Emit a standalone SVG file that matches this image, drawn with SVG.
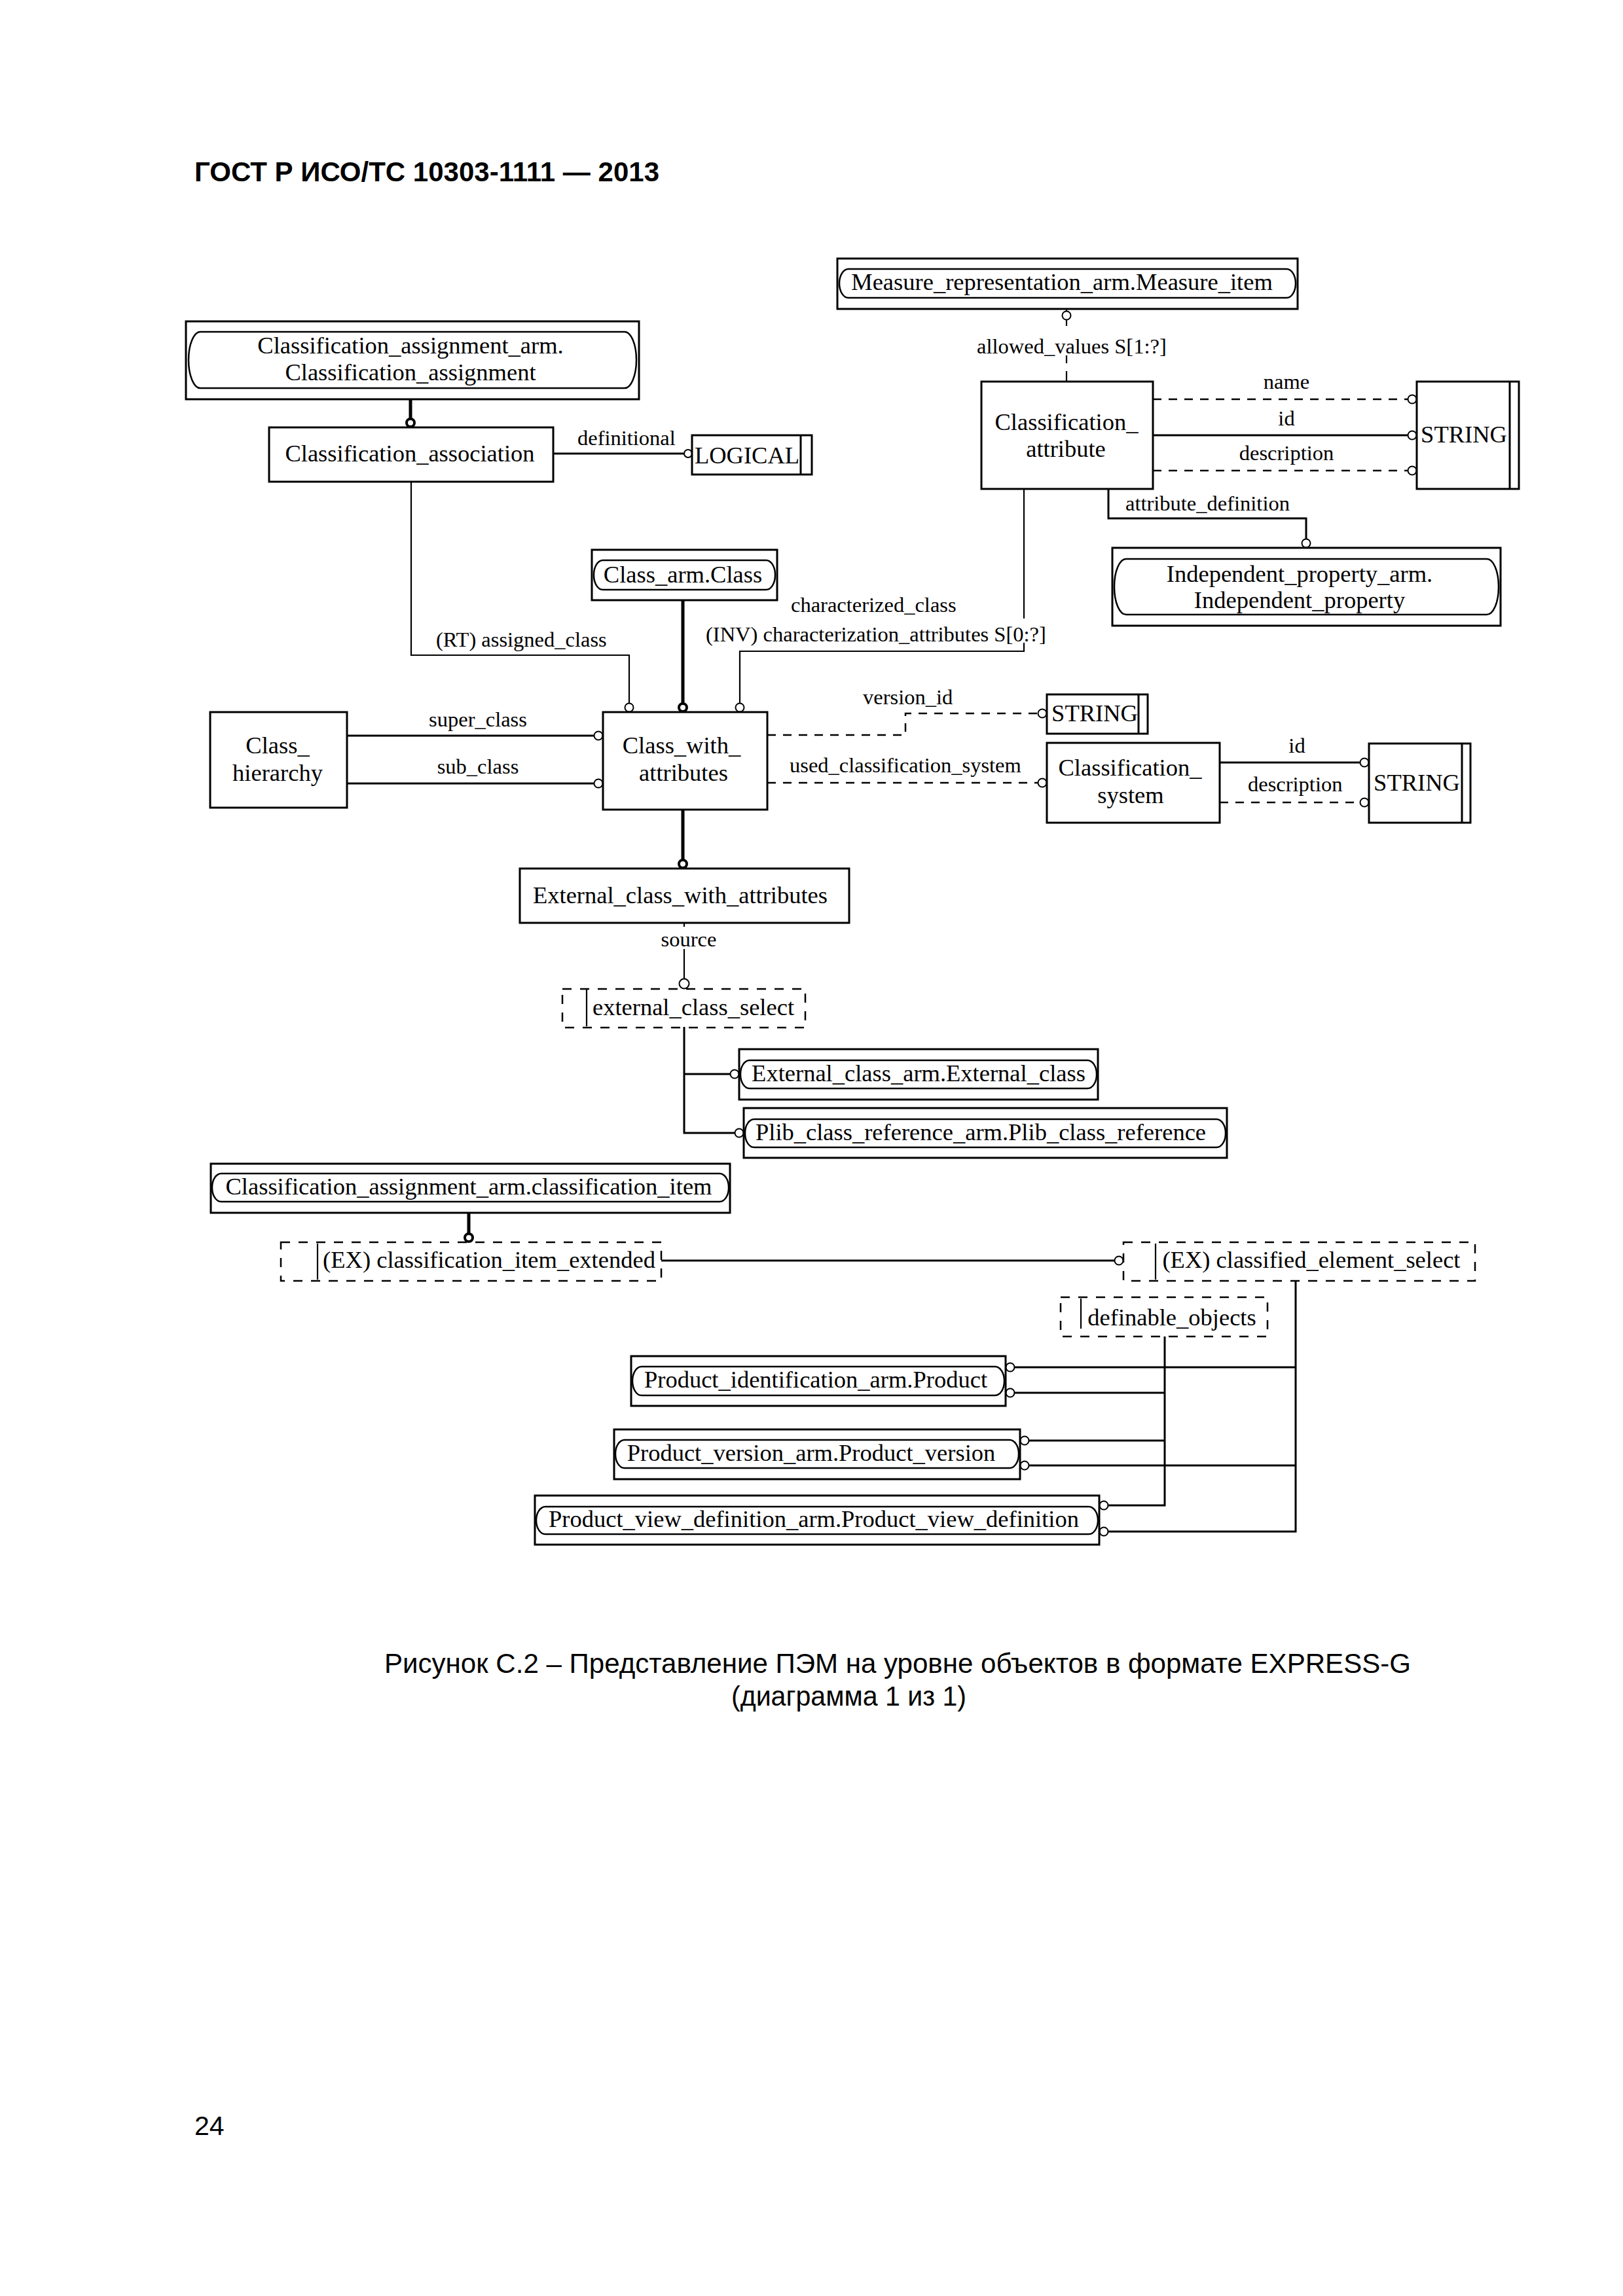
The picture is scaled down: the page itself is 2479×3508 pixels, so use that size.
<svg xmlns="http://www.w3.org/2000/svg" width="2479" height="3508" viewBox="0 0 2479 3508">
<style>
.box{fill:none;stroke:#000;stroke-width:3}
.ibox{fill:none;stroke:#000;stroke-width:2.5}
.sel{fill:none;stroke:#000;stroke-width:2.5;stroke-dasharray:14 13}
.ln{fill:none;stroke:#000;stroke-width:3}
.tl{fill:none;stroke:#000;stroke-width:2.2}
.dl{fill:none;stroke:#000;stroke-width:2.5;stroke-dasharray:13 11}
.sub{fill:none;stroke:#000;stroke-width:5}
.c{fill:#fff;stroke:#000;stroke-width:2}
.cs{fill:#fff;stroke:#000;stroke-width:4}
.n{font-family:"Liberation Serif","Times New Roman",serif;font-size:36.5px;text-anchor:middle;fill:#000}
.l{font-family:"Liberation Serif","Times New Roman",serif;font-size:32.5px;fill:#000}
.m{text-anchor:middle}
.h{font-family:"Liberation Sans",Arial,sans-serif;fill:#000}
</style>
<rect x="0" y="0" width="2479" height="3508" fill="#fff"/>
<text class="h" x="297" y="277" font-size="42" font-weight="bold" textLength="710" lengthAdjust="spacingAndGlyphs">ГОСТ Р ИСО/ТС 10303-1111 — 2013</text>

<g id="connectors">
<path class="sub" d="M627 610V640M1043 917V1075M1043 1237V1313M716 1853V1885"/>
<circle class="cs" cx="627" cy="646" r="6"/>
<circle class="cs" cx="1043" cy="1081" r="6"/>
<circle class="cs" cx="1043" cy="1320" r="6"/>
<circle class="cs" cx="716" cy="1891" r="6"/>
<path class="ln" d="M845 693H1045"/>
<circle class="c" cx="1051" cy="693" r="6"/>
<path class="tl" d="M628 736V1001H961V1075"/>
<circle class="c" cx="961" cy="1081" r="6.5"/>
<path class="tl" d="M1564 747V945M1564 982V995H1130V1075"/>
<circle class="c" cx="1130" cy="1081" r="6.5"/>
<path class="ln" d="M530 1124H908M530 1197H908"/>
<circle class="c" cx="914" cy="1124" r="6.5"/>
<circle class="c" cx="914" cy="1197" r="6.5"/>
<path class="dl" d="M1172 1123H1383V1090H1586M1172 1196H1586"/>
<circle class="c" cx="1592" cy="1090" r="6.5"/>
<circle class="c" cx="1592" cy="1196" r="6.5"/>
<path class="ln" d="M1863 1165H2078"/>
<path class="dl" d="M1863 1226H2078"/>
<circle class="c" cx="2084" cy="1165" r="6.5"/>
<circle class="c" cx="2084" cy="1226" r="6.5"/>
<path class="dl" d="M1761 610H2151M1761 719H2151"/>
<path class="ln" d="M1761 665H2151"/>
<circle class="c" cx="2157" cy="610" r="6.5"/>
<circle class="c" cx="2157" cy="665" r="6.5"/>
<circle class="c" cx="2157" cy="719" r="6.5"/>
<path class="ln" d="M1693 747V792H1995V824"/>
<circle class="c" cx="1995" cy="830" r="6.5"/>
<path class="tl" d="M1629 472V476M1629 488V498M1629 543V555M1629 567V583"/>
<circle class="c" cx="1629" cy="482" r="6.5"/>
<path class="tl" d="M1045 1410V1416M1045 1450V1495"/>
<circle class="c" cx="1045" cy="1503" r="7.5"/>
<path class="ln" d="M1045 1569V1731H1123M1045 1641H1116"/>
<circle class="c" cx="1122" cy="1641" r="6.5"/>
<circle class="c" cx="1129" cy="1731" r="6.5"/>
<path class="ln" stroke-width="4" d="M1010 1926H1703"/>
<circle class="c" cx="1709" cy="1926" r="6.5"/>
<path class="ln" stroke-width="3.5" d="M1979 1957V2340H1692M1979 2089H1549M1979 2239H1571"/>
<path class="ln" stroke-width="3.5" d="M1779 2042V2300H1692M1779 2128H1549M1779 2201H1571"/>
<circle class="c" cx="1543" cy="2089" r="6.5"/>
<circle class="c" cx="1543" cy="2128" r="6.5"/>
<circle class="c" cx="1565" cy="2201" r="6.5"/>
<circle class="c" cx="1565" cy="2239" r="6.5"/>
<circle class="c" cx="1686" cy="2300" r="6.5"/>
<circle class="c" cx="1686" cy="2340" r="6.5"/>
<text class="l" x="882" y="680">definitional</text>
<text class="l" x="666" y="988">(RT) assigned_class</text>
<text class="l" x="1208" y="935">characterized_class</text>
<text class="l" x="1078" y="980">(INV) characterization_attributes S[0:?]</text>
<text class="l" x="1492" y="540">allowed_values S[1:?]</text>
<text class="l m" x="1965" y="594">name</text>
<text class="l m" x="1965" y="650">id</text>
<text class="l m" x="1965" y="703">description</text>
<text class="l" x="1719" y="780">attribute_definition</text>
<text class="l m" x="730" y="1110">super_class</text>
<text class="l m" x="730" y="1182">sub_class</text>
<text class="l" x="1318" y="1076">version_id</text>
<text class="l" x="1206" y="1180">used_classification_system</text>
<text class="l m" x="1981" y="1150">id</text>
<text class="l" x="1906" y="1209">description</text>
<text class="l m" x="1052" y="1446">source</text>
</g>

<g id="n_classification_assignment">
<rect class="box" x="284" y="491" width="692" height="119"/>
<rect class="ibox" x="288" y="507" width="684" height="86" rx="18" ry="43"/>
<text class="n" x="627" y="540">Classification_assignment_arm.</text>
<text class="n" x="627" y="581">Classification_assignment</text>
</g>
<g id="n_classification_association">
<rect class="box" x="411" y="653" width="434" height="83"/>
<text class="n" x="626" y="705">Classification_association</text>
</g>
<g id="n_logical">
<rect class="box" x="1057" y="665" width="183" height="60"/>
<line class="box" x1="1223" y1="665" x2="1223" y2="725"/>
<text class="n" x="1141" y="708">LOGICAL</text>
</g>
<g id="n_measure_item">
<rect class="box" x="1279" y="395" width="703" height="77"/>
<rect class="ibox" x="1282" y="411" width="697" height="44" rx="14" ry="22"/>
<text class="n" x="1622" y="443">Measure_representation_arm.Measure_item</text>
</g>
<g id="n_classification_attribute">
<rect class="box" x="1499" y="583" width="262" height="164"/>
<text class="n" x="1629" y="657">Classification_</text>
<text class="n" x="1628" y="698">attribute</text>
</g>
<g id="n_string1">
<rect class="box" x="2164" y="583" width="156" height="164"/>
<line class="box" x1="2306" y1="583" x2="2306" y2="747"/>
<text class="n" x="2236" y="676">STRING</text>
</g>
<g id="n_independent_property">
<rect class="box" x="1699" y="837" width="593" height="119"/>
<rect class="ibox" x="1702" y="854" width="587" height="85" rx="18" ry="42"/>
<text class="n" x="1985" y="889">Independent_property_arm.</text>
<text class="n" x="1985" y="929">Independent_property</text>
</g>
<g id="n_class_arm_class">
<rect class="box" x="904" y="840" width="283" height="77"/>
<rect class="ibox" x="907" y="856" width="277" height="45" rx="14" ry="22"/>
<text class="n" x="1043" y="890">Class_arm.Class</text>
</g>
<g id="n_class_hierarchy">
<rect class="box" x="321" y="1088" width="209" height="146"/>
<text class="n" x="424" y="1151">Class_</text>
<text class="n" x="424" y="1193">hierarchy</text>
</g>
<g id="n_class_with_attributes">
<rect class="box" x="921" y="1088" width="251" height="149"/>
<text class="n" x="1041" y="1151">Class_with_</text>
<text class="n" x="1044" y="1193">attributes</text>
</g>
<g id="n_string2">
<rect class="box" x="1599" y="1061" width="154" height="60"/>
<line class="box" x1="1739" y1="1061" x2="1739" y2="1121"/>
<text class="n" x="1672" y="1102">STRING</text>
</g>
<g id="n_classification_system">
<rect class="box" x="1599" y="1135" width="264" height="122"/>
<text class="n" x="1726" y="1185">Classification_</text>
<text class="n" x="1727" y="1227">system</text>
</g>
<g id="n_string3">
<rect class="box" x="2091" y="1136" width="155" height="121"/>
<line class="box" x1="2233" y1="1136" x2="2233" y2="1257"/>
<text class="n" x="2164" y="1208">STRING</text>
</g>
<g id="n_external_class_with_attributes">
<rect class="box" x="794" y="1327" width="503" height="83"/>
<text class="n" x="1039" y="1380">External_class_with_attributes</text>
</g>
<g id="n_external_class_select">
<rect class="sel" x="859" y="1511" width="371" height="59"/>
<line class="tl" x1="896" y1="1512" x2="896" y2="1568"/>
<text class="n" x="1059" y="1551">external_class_select</text>
</g>
<g id="n_external_class">
<rect class="box" x="1129" y="1603" width="548" height="77"/>
<rect class="ibox" x="1131" y="1620" width="544" height="43" rx="14" ry="21"/>
<text class="n" x="1403" y="1652">External_class_arm.External_class</text>
</g>
<g id="n_plib_class_reference">
<rect class="box" x="1136" y="1693" width="738" height="76"/>
<rect class="ibox" x="1138" y="1710" width="734" height="43" rx="14" ry="21"/>
<text class="n" x="1498" y="1742">Plib_class_reference_arm.Plib_class_reference</text>
</g>
<g id="n_classification_item">
<rect class="box" x="322" y="1778" width="793" height="75"/>
<rect class="ibox" x="324" y="1793" width="789" height="43" rx="14" ry="21"/>
<text class="n" x="716" y="1825">Classification_assignment_arm.classification_item</text>
</g>
<g id="n_classification_item_extended">
<rect class="sel" x="429" y="1898" width="581" height="59"/>
<line class="tl" x1="485" y1="1900" x2="485" y2="1955"/>
<text class="n" x="747" y="1937">(EX) classification_item_extended</text>
</g>
<g id="n_classified_element_select">
<rect class="sel" x="1716" y="1898" width="537" height="59"/>
<line class="tl" x1="1765" y1="1900" x2="1765" y2="1955"/>
<text class="n" x="2003" y="1937">(EX) classified_element_select</text>
</g>
<g id="n_definable_objects">
<rect class="sel" x="1620" y="1982" width="316" height="60"/>
<line class="tl" x1="1651" y1="1984" x2="1651" y2="2030"/>
<text class="n" x="1790" y="2025">definable_objects</text>
</g>
<g id="n_product">
<rect class="box" x="964" y="2072" width="572" height="76"/>
<rect class="ibox" x="966" y="2088" width="568" height="44" rx="14" ry="22"/>
<text class="n" x="1246" y="2120">Product_identification_arm.Product</text>
</g>
<g id="n_product_version">
<rect class="box" x="938" y="2184" width="620" height="76"/>
<rect class="ibox" x="940" y="2200" width="616" height="43" rx="14" ry="21"/>
<text class="n" x="1239" y="2232">Product_version_arm.Product_version</text>
</g>
<g id="n_product_view_definition">
<rect class="box" x="817" y="2285" width="862" height="75"/>
<rect class="ibox" x="819" y="2302" width="858" height="42" rx="14" ry="21"/>
<text class="n" x="1243" y="2333">Product_view_definition_arm.Product_view_definition</text>
</g>

<text class="h" x="587" y="2556" font-size="43" textLength="1568" lengthAdjust="spacingAndGlyphs">Рисунок  С.2 – Представление ПЭМ на уровне объектов в формате EXPRESS-G</text>
<text class="h" x="1117" y="2606" font-size="43" textLength="359" lengthAdjust="spacingAndGlyphs">(диаграмма 1 из 1)</text>
<text class="h" x="297" y="3262" font-size="41">24</text>
</svg>
